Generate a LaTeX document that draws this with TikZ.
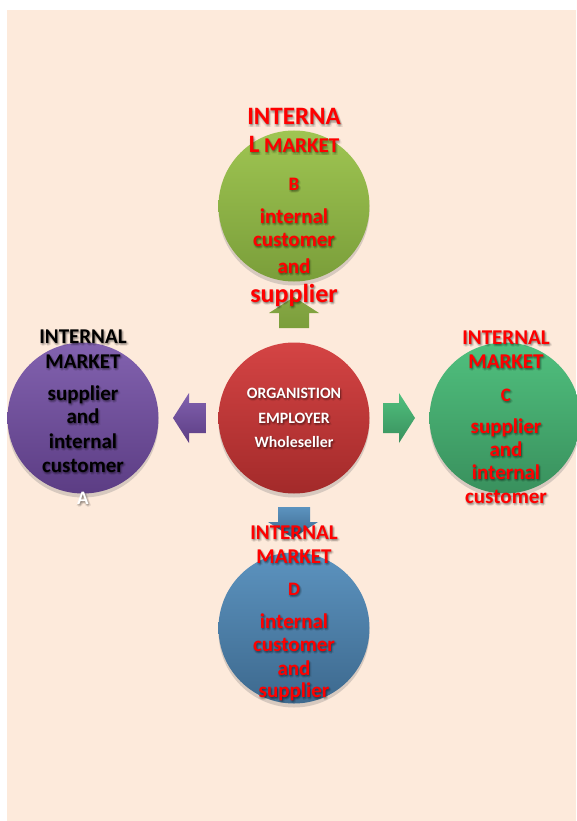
\documentclass[tikz,border=0pt]{standalone}
\usepackage{fontspec}
\setmainfont{Carlito}
\usetikzlibrary{shadows}
\definecolor{bg}{HTML}{FDEADB}
\definecolor{gTop}{HTML}{9FC552}
\definecolor{gBot}{HTML}{7A9E3A}
\definecolor{rTop}{HTML}{D44444}
\definecolor{rBot}{HTML}{A32A2A}
\definecolor{pTop}{HTML}{8262AF}
\definecolor{pBot}{HTML}{5C3D84}
\definecolor{eTop}{HTML}{50C07E}
\definecolor{eBot}{HTML}{39905D}
\definecolor{bTop}{HTML}{5C93BF}
\definecolor{bBot}{HTML}{3D698E}
\newcommand\glx[3]{\rlap{\kern#1\raisebox{#2}{#3}}}
\newcommand\gl[1]{\leavevmode\rlap{\pgfsetfillopacity{0.07}\color{black}%
  \glx{0pt}{-1pt}{#1}\glx{2pt}{-1pt}{#1}\glx{1pt}{0pt}{#1}\glx{1pt}{-2pt}{#1}%
  \glx{1pt}{-1pt}{#1}\glx{-0.5pt}{-2.5pt}{#1}\glx{2.5pt}{-2.5pt}{#1}\glx{1pt}{-3pt}{#1}%
  \pgfsetfillopacity{1}}#1}
\begin{document}
\begin{tikzpicture}[x=1pt,y=-1pt,
  bub/.style={circle, minimum size=151pt, inner sep=0pt,
    drop shadow={shadow xshift=0pt, shadow yshift=-4pt, opacity=.3}},
  lbl/.style={anchor=base, inner sep=0pt, font=\bfseries\fontsize{21}{25}\selectfont},
  redt/.style={lbl, text=red},
  blkt/.style={lbl, text=black},
  letr/.style={font=\bfseries\fontsize{19}{23}\selectfont},
  whtc/.style={anchor=base, inner sep=0pt, text=white, font=\bfseries\fontsize{15.8}{19}\selectfont},
  big/.style={font=\bfseries\fontsize{25}{30}\selectfont},
  bigger/.style={font=\bfseries\fontsize{26}{31}\selectfont}]
\useasboundingbox (0,0) rectangle (576,821);
\fill[bg] (7,10) rectangle (576,821);

% circles
\node[bub, top color=gTop, bottom color=gBot] (cB) at (294,206) {};
\node[bub, top color=rTop, bottom color=rBot] (cO) at (294,418) {};
\node[bub, top color=pTop, bottom color=pBot] (cA) at (83,418) {};
\node[bub, top color=eTop, bottom color=eBot] (cC) at (505,418) {};
\node[bub, top color=bTop, bottom color=bBot] (cD) at (294,628) {};

% block arrows
\shade[top color=gTop!85!black, bottom color=gBot] (279,328) -- (279,313) -- (269,313) -- (294,297) -- (319,313) -- (309,313) -- (309,328) -- cycle;
\shade[top color=pTop, bottom color=pBot] (206,403) -- (189,403) -- (189,393) -- (173,418) -- (189,443) -- (189,433) -- (206,433) -- cycle;
\shade[top color=eTop, bottom color=eBot] (383,403) -- (399,403) -- (399,393) -- (415,418) -- (399,443) -- (399,433) -- (383,433) -- cycle;
\shade[top color=bTop, bottom color=bBot] (278,507) -- (278,522) -- (268,522) -- (293,538) -- (318,522) -- (310,522) -- (310,507) -- cycle;

% top texts (B)
\node[redt, big] (b1) at (294,125) {\gl{INTERNA}};
\node[redt] (b2) at (294,153) {\gl{{\fontsize{25}{30}\selectfont L} MARKET}};
\node[redt, letr] (b3) at (294,190) {\gl{B}};
\node[redt] (b4) at (294,223) {\gl{internal}};
\node[redt] (b5) at (294,246) {\gl{customer}};
\node[redt] (b6) at (294,273) {\gl{and}};
\node[redt, bigger] (b7) at (294,302) {\gl{supplier}};

% left texts (A)
\node[blkt] (a1) at (83,343) {\gl{INTERNAL}};
\node[blkt] (a2) at (83,368) {\gl{MARKET}};
\node[blkt] (a3) at (83,400) {\gl{supplier}};
\node[blkt] (a4) at (83,423) {\gl{and}};
\node[blkt] (a5) at (83,448) {\gl{internal}};
\node[blkt] (a6) at (83,472) {\gl{customer}};
\node[lbl, text=white, letr] (a7) at (83,504) {\gl{A}};

% centre texts
\node[whtc] (o1) at (294,398) {\gl{ORGANISTION}};
\node[whtc] (o2) at (294,423) {\gl{EMPLOYER}};
\node[whtc] (o3) at (294,447) {\gl{Wholeseller}};

% right texts (C)
\node[redt] (c1) at (506,344) {\gl{INTERNAL}};
\node[redt] (c2) at (506,368) {\gl{MARKET}};
\node[redt, letr] (c3) at (506,401) {\gl{C}};
\node[redt] (c4) at (506,433) {\gl{supplier}};
\node[redt] (c5) at (506,456) {\gl{and}};
\node[redt] (c6) at (506,479) {\gl{internal}};
\node[redt] (c7) at (506,503) {\gl{customer}};

% bottom texts (D)
\node[redt] (d1) at (294,539) {\gl{INTERNAL}};
\node[redt] (d2) at (294,563) {\gl{MARKET}};
\node[redt, letr] (d3) at (294,595) {\gl{D}};
\node[redt] (d4) at (294,628) {\gl{internal}};
\node[redt] (d5) at (294,651) {\gl{customer}};
\node[redt] (d6) at (294,675) {\gl{and}};
\node[redt] (d7) at (294,697) {\gl{supplier}};
\end{tikzpicture}
\end{document}
